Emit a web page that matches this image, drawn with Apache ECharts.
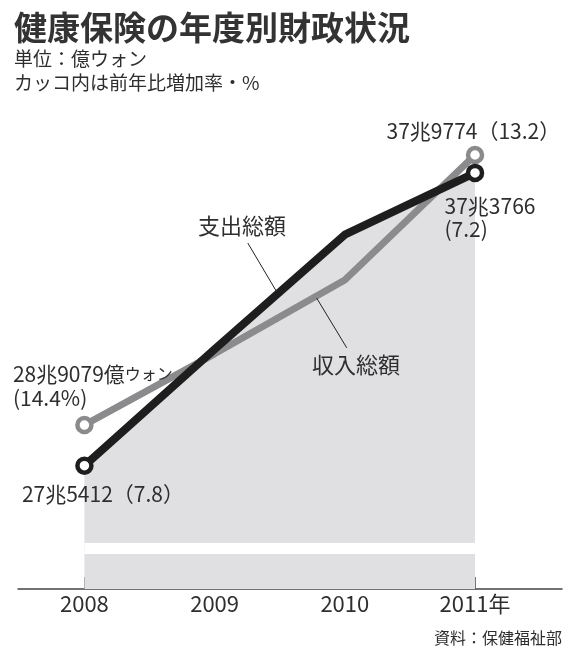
<!DOCTYPE html>
<html>
<head>
<meta charset="utf-8">
<script src="https://cdn.jsdelivr.net/npm/echarts@6/dist/echarts.min.js"></script>
<style>
html,body{margin:0;padding:0;background:#fff;}
#c{width:580px;height:656px;}
</style>
</head>
<body>
<div id="c"></div>
<script>
const years = [2008, 2009, 2010, 2011];
const yearLabels = ['2008', '2009', '2010', '2011年'];
const income = [289079, 313000, 337800, 379774];   // 収入総額
const expense = [275412, 314500, 353000, 373766];  // 支出総額
const incomeGrowth = [14.4, null, null, 13.2];
const expenseGrowth = [7.8, null, null, 7.2];

const FONT = '"Noto Sans CJK JP", "Noto Sans", sans-serif';
const TXT = '#2e2e2e';
const GRAY = '#8b8b8d';
const BLACK = '#1e1e1e';
const FILL = '#e0e0e2';

function fmt(v) {
  return Math.floor(v / 10000) + '兆' + String(v % 10000).padStart(4, '0');
}

const incomeLabels = {
  0: { text: v => fmt(v) + '億{k|ウォン}\n(' + incomeGrowth[0] + '%)', offset: [-71.5, -39], lh: 24.5 },
  3: { text: v => fmt(v) + '（' + incomeGrowth[3] + '）', offset: [-88.5, -24], lh: 24 }
};
const expenseLabels = {
  0: { text: v => fmt(v) + '（' + expenseGrowth[0] + '）', offset: [-62.5, 28], lh: 24 },
  3: { text: v => fmt(v) + '\n(' + expenseGrowth[3] + ')', offset: [-30.5, 44.5], lh: 23 }
};

function buildData(values, labels) {
  return values.map((v, i) => {
    const item = { value: [years[i], v] };
    item.symbol = (i === 0 || i === values.length - 1) ? 'circle' : 'none';
    const l = labels[i];
    if (l) {
      item.label = {
        show: true,
        position: 'inside',
        align: 'left',
        verticalAlign: 'middle',
        offset: l.offset,
        formatter: () => l.text(v),
        color: TXT,
        fontFamily: FONT,
        fontSize: 21,
        lineHeight: l.lh,
        rich: { k: { fontFamily: FONT, fontSize: 16, color: TXT, lineHeight: l.lh } }
      };
    }
    return item;
  });
}

const chart = echarts.init(document.getElementById('c'), null, { renderer: 'canvas' });

const option = {
  animation: false,
  backgroundColor: '#fff',
  title: [
    {
      text: '健康保険の年度別財政状況',
      subtext: '単位：億ウォン\nカッコ内は前年比増加率・%',
      left: 14,
      top: 9,
      padding: 0,
      itemGap: 2,
      textStyle: { fontFamily: FONT, fontSize: 33, fontWeight: 'bold', color: '#333', lineHeight: 36 },
      subtextStyle: { fontFamily: FONT, fontSize: 19, color: TXT, lineHeight: 24 }
    },
    {
      text: '資料：保健福祉部',
      right: 18,
      top: 628,
      padding: 0,
      textStyle: { fontFamily: FONT, fontSize: 16, fontWeight: 'normal', color: TXT, lineHeight: 20 }
    }
  ],
  grid: { left: 18, right: 18, top: 94.8, bottom: 67, containLabel: false, outerBoundsMode: 'none' },
  xAxis: {
    type: 'value',
    min: 2007.49,
    max: 2011.668,
    splitLine: { show: false },
    axisLine: { show: true, lineStyle: { color: '#444', width: 1.5 } },
    axisTick: { show: true, inside: true, length: 12, customValues: years, lineStyle: { color: '#444', width: 1.5 } },
    axisLabel: {
      customValues: years,
      formatter: v => yearLabels[years.indexOf(v)],
      fontFamily: FONT,
      fontSize: 22,
      color: TXT,
      margin: 4
    }
  },
  yAxis: {
    type: 'value',
    min: 234000,
    max: 400000,
    show: false,
    splitLine: { show: false }
  },
  series: [
    {
      name: 'fill',
      type: 'line',
      z: 1,
      silent: true,
      symbol: 'none',
      lineStyle: { width: 0, opacity: 0 },
      areaStyle: { color: FILL, opacity: 1, origin: 'start' },
      data: expense.map((v, i) => [years[i], v]),
      markArea: {
        z: 3,
        silent: true,
        itemStyle: { color: '#ffffff', opacity: 1 },
        data: [[{ coord: [years[0], 245750] }, { coord: [years[3], 249450] }]]
      }
    },
    {
      name: '収入総額',
      type: 'line',
      z: 4,
      symbolSize: 14,
      lineStyle: { color: GRAY, width: 7 },
      itemStyle: { color: '#fff', borderColor: GRAY, borderWidth: 4.5 },
      data: buildData(income, incomeLabels),
      markLine: {
        z: 6,
        silent: true,
        symbol: ['none', 'none'],
        label: { show: false },
        lineStyle: { color: '#222', width: 1, type: 'solid' },
        data: [
          [{ coord: [2009.784, 331700] }, { coord: [2010.015, 315000] }]
        ]
      }
    },
    {
      name: '支出総額',
      type: 'line',
      z: 5,
      symbolSize: 14,
      lineStyle: { color: BLACK, width: 8 },
      itemStyle: { color: '#fff', borderColor: BLACK, borderWidth: 4.5 },
      data: buildData(expense, expenseLabels),
      markLine: {
        z: 6,
        silent: true,
        symbol: ['none', 'none'],
        label: { show: false },
        lineStyle: { color: '#222', width: 1, type: 'solid' },
        data: [
          [{ coord: [2009.255, 350200] }, { coord: [2009.477, 333800] }]
        ]
      }
    }
  ],
  graphic: [
    { type: 'text', x: 198, y: 226, z: 100, style: { text: '支出総額', fontFamily: FONT, fontSize: 22, fill: TXT, align: 'left', verticalAlign: 'middle' } },
    { type: 'text', x: 312, y: 365, z: 100, style: { text: '収入総額', fontFamily: FONT, fontSize: 22, fill: TXT, align: 'left', verticalAlign: 'middle' } }
  ]
};

chart.setOption(option);
</script>
</body>
</html>
